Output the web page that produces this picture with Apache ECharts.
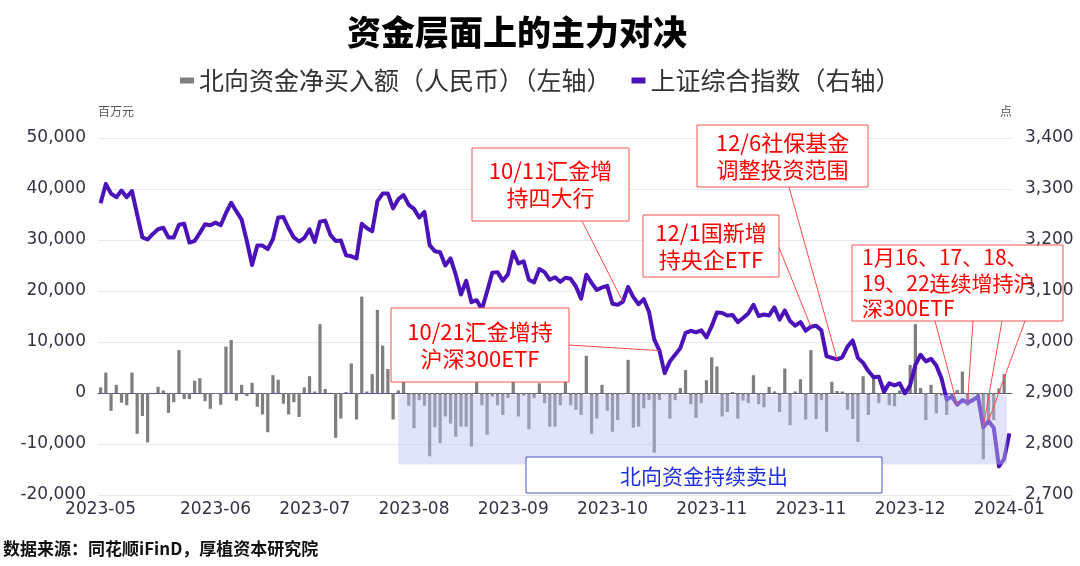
<!DOCTYPE html>
<html>
<head>
<meta charset="utf-8">
<title>资金层面上的主力对决</title>
<script src="https://cdn.jsdelivr.net/npm/echarts@6/dist/echarts.min.js"></script>
<style>
  html, body { margin: 0; padding: 0; background: #fff; }
  #chart { width: 1080px; height: 566px; }
</style>
</head>
<body>
<div id="chart"></div>
<script>
// one category per trading day, 2023-05-12 .. 2024-01-24
const tickIdx = [0, 22, 41, 60, 79, 98, 117, 136, 155, 174]
const tickLabels = ['2023-05', '2023-06', '2023-07', '2023-08', '2023-09',
  '2023-10', '2023-11', '2023-11', '2023-12', '2024-01']

// 北向资金净买入额, 百万元
const netBuy = [
  1100, 4000, -3500, 1600, -1900, -2400, 4000, -8000, -4500, -9700,
  0, 1200, 500, -3900, -1800, 8400, -1200, -1200, 2400, 2900,
  -1600, -3100, -200, -2300, 9100, 10400, -1500, 1600, -600, 2000,
  -2700, -4200, -7700, 3500, 2600, -2100, -4200, -1800, -4700, 1100,
  3300, 300, 13500, 800, 0, -8800, -5000, 200, 5800, -5200,
  18900, 300, 3700, 16300, 9300, 4700, -5200, 500, 2700, -2500,
  -6900, -1400, -2500, -12400, -6700, -9800, -4600, -6000, -8600, -6600,
  -6600, -10500, 3100, -2400, -8200, -700, -2400, -4300, -1000, 6600,
  -4600, -500, -7100, -1000, 1900, -2000, -6600, -6600, -2400, 2500,
  -2400, -3300, -4300, 7300, -8000, -5000, 1600, -3500, -7600, -5300,
  -300, 6500, -6800, -6600, -3000, -1400, -11700, -1400, -300, -5000,
  -1400, 1000, 4500, -2200, -4900, -2000, 2500, 7000, 5200, -4600,
  -3700, 200, -5000, -1500, -2000, 3500, -2200, -2800, 1200, 300,
  -3700, 4800, -6300, 300, 2700, -5200, 8400, -5100, -1400, -7600,
  2200, 400, 300, -3300, -5100, -9600, 3300, -4300, 2900, -2000,
  1500, -2400, -2600, 500, -300, 5500, 13500, 1000, -5300, 1600,
  -4000, -500, -4300, -500, 600, 4200, -2500, -300, -500, -13000,
  -5500, -5300, 900, 3700, null
]

// 上证综合指数, 点
const shIndex = [
  3272, 3310, 3291, 3284, 3297, 3284, 3296, 3250, 3205, 3201,
  3212, 3221, 3224, 3205, 3205, 3230, 3232, 3195, 3198, 3214,
  3231, 3229, 3234, 3229, 3253, 3273, 3256, 3240, 3198, 3151,
  3189, 3189, 3182, 3202, 3244, 3245, 3223, 3205, 3197, 3204,
  3221, 3196, 3236, 3238, 3210, 3198, 3199, 3170, 3168, 3164,
  3232, 3223, 3217, 3276, 3291, 3291, 3262, 3280, 3288, 3269,
  3261, 3244, 3255, 3190, 3178, 3176, 3150, 3164, 3132, 3093,
  3120, 3078, 3082, 3064, 3099, 3136, 3137, 3120, 3133, 3177,
  3154, 3158, 3122, 3117, 3143, 3137, 3122, 3127, 3118, 3126,
  3124, 3109, 3085, 3132, 3116, 3102, 3107, 3110, 3075, 3073,
  3079, 3108, 3088, 3074, 3084, 3059, 3005, 2983, 2939, 2962,
  2975, 2988, 3018, 3022, 3019, 3023, 3009, 3031, 3058, 3057,
  3052, 3053, 3039, 3047, 3056, 3073, 3051, 3054, 3052, 3068,
  3044, 3062, 3041, 3032, 3039, 3022, 3030, 3032, 3023, 2972,
  2969, 2966, 2970, 2991, 3003, 2969, 2959, 2943, 2931, 2932,
  2902, 2919, 2915, 2919, 2899, 2915, 2955, 2975, 2962, 2967,
  2954, 2929, 2887, 2893, 2877, 2886, 2881, 2886, 2893, 2833,
  2845, 2832, 2756, 2771, 2821
]

const days = shIndex.map((_, i) => i)

// callouts: box in pixels, leader from box edge to a day on the index line
const notes = [
  { text: '10/11汇金增\n持四大行', box: [472, 148, 157, 73], from: [[582, 221]], day: [100] },
  { text: '10/21汇金增持\n沪深300ETF', box: [391, 308, 178, 74], from: [[569, 345]], day: [107] },
  { text: '12/6社保基金\n调整投资范围', box: [697, 125, 171, 62], from: [[789, 187]], day: [141] },
  { text: '12/1国新增\n持央企ETF', box: [643, 215, 136, 62], from: [[778, 245]], day: [136] },
  { text: '1月16、17、18、\n19、22连续增持沪\n深300ETF', box: [852, 245, 211, 76], left: true, clear: true,
    from: [[935, 321], [973, 321], [1002, 321], [1025, 321]], day: [164, 166, 169, 170] }
]

const FONT = '"Noto Sans CJK SC", "Noto Sans", sans-serif'
const NUM = '"DejaVu Sans", sans-serif'
const chart = echarts.init(document.getElementById('chart'))

chart.setOption({
  backgroundColor: '#fff',
  animation: false,
  title: {
    text: '资金层面上的主力对决',
    left: 342,
    top: 10,
    textStyle: { fontFamily: FONT, fontSize: 34, fontWeight: 900, color: '#000' }
  },
  legend: {
    top: 63,
    left: 175,
    itemWidth: 14,
    itemHeight: 6,
    itemGap: 20,
    textStyle: { fontFamily: FONT, fontSize: 25, color: '#333' },
    data: [
      { name: '北向资金净买入额（人民币）（左轴）', icon: 'rect' },
      { name: '上证综合指数（右轴）', icon: 'rect' }
    ]
  },
  grid: { left: 98, right: 68, top: 138, bottom: 71, containLabel: false },
  xAxis: {
    type: 'category',
    data: days,
    boundaryGap: true,
    axisLine: { lineStyle: { color: '#565b8a', width: 1 } },
    axisTick: { show: false },
    axisLabel: {
      interval: (idx) => tickIdx.includes(idx),
      formatter: (val, idx) => tickLabels[tickIdx.indexOf(idx)],
      fontFamily: NUM,
      fontSize: 17,
      color: '#333344',
      margin: 6
    }
  },
  yAxis: [
    {
      type: 'value',
      min: -20000,
      max: 50000,
      interval: 10000,
      name: '百万元',
      nameGap: 21,
      nameTextStyle: { fontFamily: FONT, fontSize: 12, color: '#555', align: 'left' },
      axisLine: { show: false },
      axisTick: { show: false },
      axisLabel: { fontFamily: NUM, fontSize: 17, color: '#333344', margin: 12 },
      splitLine: { lineStyle: { color: '#e8e8f2' } }
    },
    {
      type: 'value',
      min: 2700,
      max: 3400,
      interval: 100,
      name: '点',
      nameGap: 21,
      nameTextStyle: { fontFamily: FONT, fontSize: 12, color: '#555', align: 'right' },
      axisLine: { show: false },
      axisTick: { show: false },
      axisLabel: { fontFamily: NUM, fontSize: 17, color: '#333344', margin: 13 },
      splitLine: { show: false }
    }
  ],
  series: [
    {
      name: '北向资金净买入额（人民币）（左轴）',
      type: 'bar',
      yAxisIndex: 0,
      barWidth: '62%',
      itemStyle: { color: '#7f7f7f' },
      data: netBuy
    },
    {
      name: '上证综合指数（右轴）',
      type: 'line',
      yAxisIndex: 1,
      showSymbol: false,
      symbol: 'none',
      itemStyle: { color: '#4a12b8' },
      lineStyle: { color: '#4a12b8', width: 4, join: 'round' },
      data: shIndex
    }
  ]
})

function drawOverlay() {
  const px = (i) => chart.convertToPixel({ xAxisIndex: 0 }, i)
  const py = (v) => chart.convertToPixel({ yAxisIndex: 0 }, v)
  const onLine = (i) => chart.convertToPixel({ seriesIndex: 1 }, [i, shIndex[i]])
  const half = (px(1) - px(0)) / 2
  const els = []

  // shaded selling period
  const x0 = px(57), x1 = px(173) + half
  const y0 = py(-400), y1 = py(-14000)
  els.push({
    type: 'rect', z: 50,
    shape: { x: x0, y: y0, width: x1 - x0, height: y1 - y0 },
    style: { fill: 'rgba(188, 194, 245, 0.45)' }
  })
  els.push({
    type: 'rect', z: 60,
    shape: { x: 526, y: 457, width: 356, height: 36 },
    style: { fill: '#fff', stroke: '#4a58c8', lineWidth: 1 }
  })
  els.push({
    type: 'text', z: 61,
    style: { text: '北向资金持续卖出', x: 704, y: 476, fill: '#2030e0',
      font: '21px ' + FONT, align: 'center', verticalAlign: 'middle' }
  })

  notes.forEach((n) => {
    const [bx, by, bw, bh] = n.box
    n.from.forEach((f, k) => {
      const p = onLine(n.day[k])
      els.push({
        type: 'line', z: 55,
        shape: { x1: f[0], y1: f[1], x2: p[0], y2: p[1] },
        style: { stroke: '#ff4d4d', lineWidth: 1 }
      })
    })
    els.push({
      type: 'rect', z: 60,
      shape: { x: bx, y: by, width: bw, height: bh },
      style: { fill: n.clear ? 'rgba(255,255,255,0)' : '#fff', stroke: '#f05555', lineWidth: 1 }
    })
    els.push({
      type: 'text', z: 61,
      style: {
        text: n.text,
        x: n.left ? bx + 10 : bx + bw / 2,
        y: by + bh / 2,
        fill: '#ff0000',
        font: (n.left ? '21px ' : '22px ') + FONT,
        lineHeight: n.left ? 25.5 : 27,
        align: n.left ? 'left' : 'center',
        verticalAlign: 'middle'
      }
    })
  })

  els.push({
    type: 'text', z: 61,
    style: { text: '数据来源：同花顺iFinD，厚植资本研究院', x: 3, y: 549, fill: '#111',
      font: 'bold 17px ' + FONT, verticalAlign: 'middle' }
  })

  chart.setOption({ graphic: els })
}

drawOverlay()
</script>
</body>
</html>
